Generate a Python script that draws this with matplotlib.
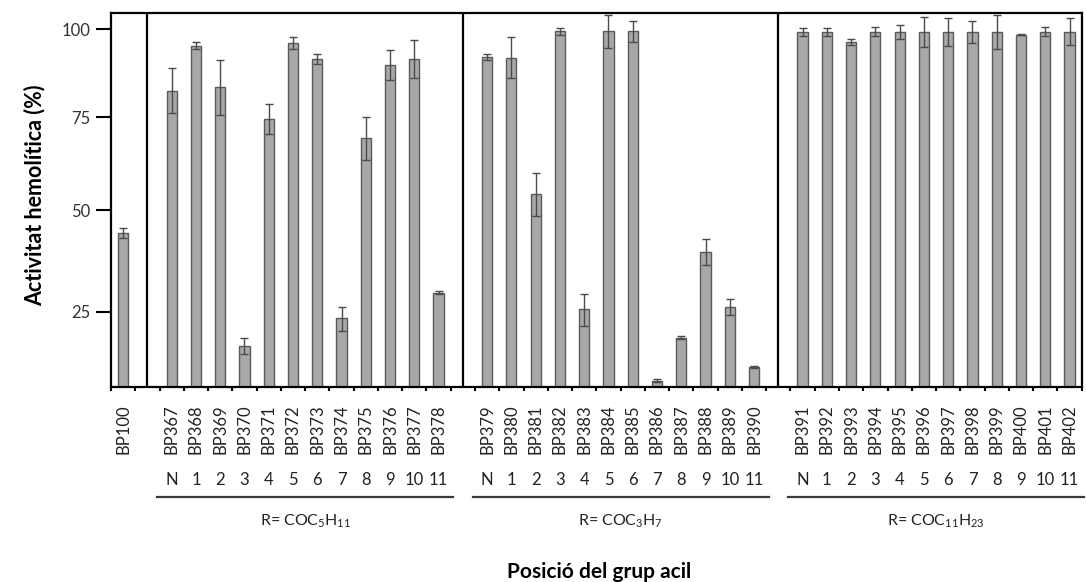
import numpy as np
import matplotlib
matplotlib.use("Agg")
import matplotlib.pyplot as plt

plt.rcParams['font.family'] = ['Lato', 'DejaVu Sans']
plt.rcParams['mathtext.fontset'] = 'custom'
plt.rcParams['mathtext.rm'] = 'Lato'

# data
ref_label = "BP100"
ref_value = 44.3
ref_err = 1.2

positions_txt = ["N", "1", "2", "3", "4", "5", "6", "7", "8", "9", "10", "11"]
group_names = [r"R= COC$\mathregular{_5}$H$\mathregular{_{11}}$",
               r"R= COC$\mathregular{_3}$H$\mathregular{_7}$",
               r"R= COC$\mathregular{_{11}}$H$\mathregular{_{23}}$"]

labels_c5 = ["BP%d" % n for n in range(367, 379)]
labels_c3 = ["BP%d" % n for n in range(379, 391)]
labels_c11 = ["BP%d" % n for n in range(391, 403)]

vals_c5 = [82.6, 95.3, 83.5, 18.2, 74.6, 96.2, 91.6, 23.7, 69.3, 89.9, 91.6, 29.7]
err_c5 = [6.4, 1.0, 7.8, 1.6, 4.2, 1.7, 1.3, 2.5, 5.7, 4.3, 5.4, 0.3]
vals_c3 = [92.2, 92.0, 54.3, 99.4, 25.7, 99.4, 99.4, 11.2, 19.8, 39.7, 26.2, 13.9]
err_c3 = [0.8, 5.7, 5.7, 1.0, 3.6, 4.7, 3.0, 0.3, 0.3, 3.2, 1.9, 0.2]
vals_c11 = [99.3, 99.3, 96.4, 99.3, 99.3, 99.3, 99.3, 99.3, 99.3, 98.5, 99.3, 99.3]
err_c11 = [1.2, 1.2, 0.8, 1.3, 1.9, 4.3, 3.9, 3.1, 4.8, 0.2, 1.3, 3.8]

yticks = [25, 50, 75, 100]

# the original y axis is not linear: knots of value -> screen position
knot_vals = np.array([10, 25, 50, 75, 100, 104.55])
knot_pos = -np.array([386.7, 311.7, 210.0, 117.3, 29.3, 13.3])


def fwd(v):
    return np.interp(v, knot_vals, knot_pos)


def inv(p):
    return np.interp(p, knot_pos, knot_vals)


fig = plt.figure(figsize=(10.86, 5.82), dpi=100)
ax = fig.add_axes([0.1022, 0.3356, 0.996 - 0.1022, 0.977 - 0.3356])
ax.set_yscale('function', functions=(fwd, inv))

groups = [(labels_c5, vals_c5, err_c5),
          (labels_c3, vals_c3, err_c3),
          (labels_c11, vals_c11, err_c11)]

xs = [0]
all_labels = [ref_label]
all_vals = [ref_value]
all_errs = [ref_err]
starts = []
for g, (lab, v, e) in enumerate(groups):
    s = 2 + 13 * g
    starts.append(s)
    xs += list(range(s, s + len(lab)))
    all_labels += lab
    all_vals += v
    all_errs += e

ax.bar(xs, all_vals, width=0.42, color='#a8a8a8', edgecolor='#5a5a5a',
       linewidth=1.0, zorder=2)
ax.errorbar(xs, all_vals, yerr=all_errs, fmt='none', ecolor='#4a4a4a',
            elinewidth=1.0, capsize=3, capthick=1.0, zorder=3)

# separators between series
for s in starts:
    ax.axvline(s - 1, color='black', lw=1.6, zorder=4)

ax.set_xlim(-0.5, 39.5)
ax.set_ylim(10, 104.55)

ax.set_yticks(yticks)
ax.set_yticklabels([str(t) for t in yticks])
ax.tick_params(axis='y', which='major', direction='out', length=11, width=1.5,
               labelsize=12, labelcolor='#333333', pad=4)
ax.yaxis.set_minor_locator(matplotlib.ticker.NullLocator())

ax.set_xticks(xs)
ax.set_xticklabels(all_labels, rotation=90)
ax.tick_params(axis='x', which='major', length=0, labelsize=12, pad=13,
               labelcolor='#222222')
ax.set_xticks(np.arange(-0.5, 39.6, 1.0), minor=True)
ax.tick_params(axis='x', which='minor', direction='out', length=3, width=1.5)

for sp in ax.spines.values():
    sp.set_linewidth(1.6)
    sp.set_color('black')

trans = ax.get_xaxis_transform()
for g, s in enumerate(starts):
    for i, t in enumerate(positions_txt):
        ax.text(s + i, -0.25, t, transform=trans, ha='center', va='center',
                fontsize=12, color='#222222', clip_on=False)
    c = s + 5.5
    ax.plot([c - 6.1, c + 6.1], [-0.295, -0.295], transform=trans,
            color='#3a3a3a', lw=1.6, clip_on=False)
    ax.text(c, -0.3615, group_names[g], transform=trans, ha='center',
            va='center', fontsize=11.5, color='#222222', clip_on=False)

fig.text(0.032, 0.665, "Activitat hemolítica (%)", rotation=90, ha='center',
         va='center', fontsize=15.5, fontweight='bold', color='black')
fig.text(0.552, 1 - 578 / 582, "Posició del grup acil", ha='center',
         va='baseline', fontsize=15, fontweight='bold', color='black')

fig.savefig("out.png", dpi=100)
